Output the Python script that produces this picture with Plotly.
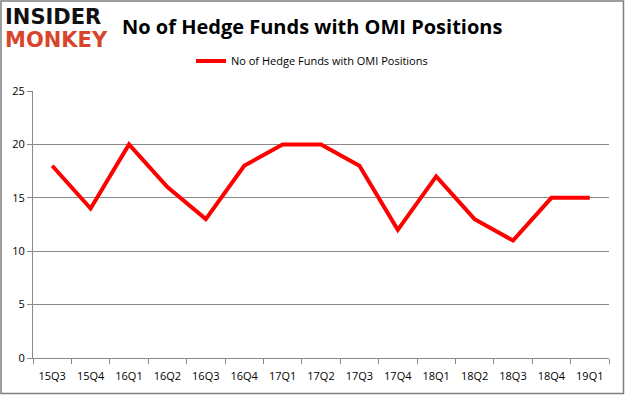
import plotly.graph_objects as go

quarters = ["15Q3", "15Q4", "16Q1", "16Q2", "16Q3", "16Q4", "17Q1", "17Q2",
            "17Q3", "17Q4", "18Q1", "18Q2", "18Q3", "18Q4", "19Q1"]
funds = [18, 14, 20, 16, 13, 18, 20, 20, 18, 12, 17, 13, 11, 15, 15]
series_name = "No of Hedge Funds with OMI Positions"
title_text = "No of Hedge Funds with OMI Positions"
y_ticks = [0, 5, 10, 15, 20, 25]

L, T, R, B = 33, 91, 16, 37
PW, PH = 625 - L - R, 395 - T - B


def px(x):
    return (x - L) / PW


def py(y):
    return (T + PH - y) / PH


fig = go.Figure()
fig.add_trace(go.Scatter(
    x=quarters, y=funds, mode="lines", name=series_name,
    line=dict(color="#ff0000", width=4),
))

fig.update_layout(
    width=625, height=395,
    margin=dict(l=L, r=R, t=T, b=B, autoexpand=False),
    paper_bgcolor="white", plot_bgcolor="white",
    font=dict(family="Liberation Sans, Arial, sans-serif", color="#000000"),
    showlegend=True,
    legend=dict(orientation="h", x=px(312), xanchor="center", y=py(61), yanchor="middle",
                font=dict(size=11, family="Open Sans, sans-serif"),
                bgcolor="rgba(0,0,0,0)"),
    xaxis=dict(
        type="category", range=[-0.5, 14.5], automargin=False,
        showline=True, linecolor="#898989", linewidth=1,
        ticks="outside", tickson="boundaries", ticklen=5, tickcolor="#898989",
        showgrid=False, ticklabelstandoff=8,
        tickfont=dict(size=11, family="Open Sans, sans-serif"),
    ),
    yaxis=dict(
        range=[0, 25], tickvals=y_ticks, automargin=False,
        showline=True, linecolor="#898989", linewidth=1,
        ticks="outside", ticklen=5, tickcolor="#898989",
        showgrid=True, gridcolor="#898989", gridwidth=1,
        zeroline=False,
        tickfont=dict(size=11, family="Open Sans, sans-serif"),
    ),
    shapes=[dict(type="rect", xref="paper", yref="paper",
                 x0=px(1), x1=px(623.5), y0=py(393.5), y1=py(1),
                 line=dict(color="#7f7f7f", width=1.5), fillcolor="rgba(0,0,0,0)")],
    annotations=[
        dict(text="<b>" + title_text + "</b>", xref="paper", yref="paper",
             x=px(312), y=py(26), xanchor="center", yanchor="middle",
             showarrow=False, font=dict(size=20, family="Open Sans, sans-serif", color="#000000")),
        dict(text="<b>INSIDER</b>", xref="paper", yref="paper",
             x=px(3), y=py(17), xanchor="left", yanchor="middle",
             showarrow=False, font=dict(size=21, family="DejaVu Sans, sans-serif", color="#111111")),
        dict(text="<b>MONKEY</b>", xref="paper", yref="paper",
             x=px(3), y=py(40), xanchor="left", yanchor="middle",
             showarrow=False, font=dict(size=21, family="DejaVu Sans, sans-serif", color="#d9452c")),
    ],
)

fig.write_html("out.html", config={"displayModeBar": False},
               post_script="document.body.style.margin='0';document.body.style.overflow='hidden';")
